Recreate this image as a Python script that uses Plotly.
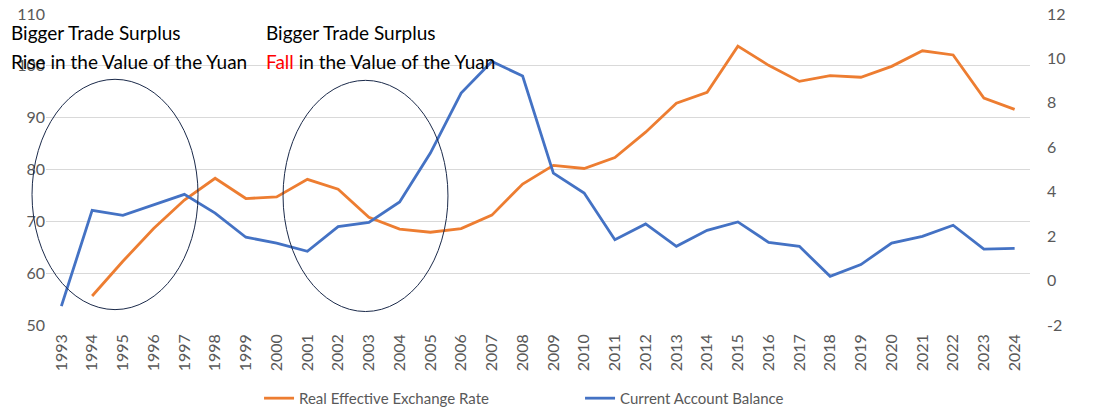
import plotly.graph_objects as go

years = list(range(1993, 2025))
year_labels = [str(y) for y in years]

reer = [None, 55.6, 62.3, 68.6, 74.1, 78.3, 74.4, 74.7, 78.1, 76.2,
        70.8, 68.5, 67.9, 68.6, 71.2, 77.2, 80.8, 80.2, 82.3, 87.2,
        92.8, 94.9, 103.8, 100.1, 97.0, 98.1, 97.8, 99.9, 102.9, 102.1,
        93.8, 91.6]

cab = [-1.15, 3.16, 2.94, 3.42, 3.88, 3.04, 1.95, 1.69, 1.32, 2.43,
       2.62, 3.54, 5.74, 8.44, 9.86, 9.21, 4.84, 3.94, 1.84, 2.55,
       1.54, 2.26, 2.64, 1.72, 1.54, 0.19, 0.72, 1.69, 1.99, 2.49,
       1.42, 1.45]

left_ticks = [50, 60, 70, 80, 90, 100, 110]
right_ticks = [-2, 0, 2, 4, 6, 8, 10, 12]
right_tick_labels = ["-2", "0", "2", "4", "6", "8", "10", "12"]

series_names = ["Real Effective Exchange Rate", "Current Account Balance"]

ORANGE = "#ED7D31"
BLUE = "#4472C4"
GRAY = "#595959"
FONT = "Lato, Open Sans, sans-serif"

fig = go.Figure()
fig.add_trace(go.Scatter(x=years, y=reer, mode="lines", name=series_names[0],
                         line=dict(color=ORANGE, width=2.8), yaxis="y"))
fig.add_trace(go.Scatter(x=years, y=cab, mode="lines", name=series_names[1],
                         line=dict(color=BLUE, width=2.8), yaxis="y2"))

# circles highlighting periods
ell = dict(type="circle", xref="paper", yref="y", line=dict(color="#1B2A4A", width=1),
           fillcolor="rgba(0,0,0,0)", layer="above")
fig.add_shape(**ell, x0=-0.0142, x1=0.1545, y0=52.97, y1=97.4)
fig.add_shape(**ell, x0=0.2409, x1=0.4085, y0=52.6, y1=97.2)

ann_font = dict(family=FONT, size=19, color="black")
fig.add_annotation(text="Bigger Trade Surplus", xref="paper", yref="paper",
                   x=-0.0376, y=0.939, xanchor="left", yanchor="middle",
                   showarrow=False, font=ann_font)
fig.add_annotation(text="Rise in the Value of the Yuan", xref="paper", yref="paper",
                   x=-0.0376, y=0.846, xanchor="left", yanchor="middle",
                   showarrow=False, font=ann_font)
fig.add_annotation(text="Bigger Trade Surplus", xref="paper", yref="paper",
                   x=0.2215, y=0.939, xanchor="left", yanchor="middle",
                   showarrow=False, font=ann_font)
fig.add_annotation(text="<span style='color:#FF0000'>Fall</span> in the Value of the Yuan",
                   xref="paper", yref="paper",
                   x=0.2215, y=0.846, xanchor="left", yanchor="middle",
                   showarrow=False, font=ann_font)

fig.update_layout(
    width=1100, height=409,
    margin=dict(l=46, r=70, t=14, b=84, autoexpand=False),
    paper_bgcolor="white", plot_bgcolor="white",
    font=dict(family=FONT, color=GRAY, size=14),
    showlegend=True,
    legend=dict(orientation="h", x=0.2165, xanchor="left", y=-0.183, yanchor="top",
                font=dict(size=15, color=GRAY), itemwidth=30, traceorder="normal",
                entrywidth=276, entrywidthmode="pixels"),
    xaxis=dict(range=[1992.5, 2024.5], tickvals=years, ticktext=year_labels,
               tickangle=-90, showgrid=False, zeroline=False, showline=False,
               tickfont=dict(size=16, color=GRAY), ticks="", automargin=False,
               ticklabelstandoff=5),
    yaxis=dict(range=[50, 110], tickvals=left_ticks, showgrid=True,
               gridcolor="#D9D9D9", gridwidth=1, zeroline=False, showline=False,
               tickfont=dict(size=16, color=GRAY), ticks="", automargin=False),
    yaxis2=dict(range=[-2, 12], tickvals=right_ticks, ticktext=right_tick_labels,
                overlaying="y", side="right",
                showgrid=False, zeroline=False, showline=False, automargin=False,
                tickfont=dict(size=16, color=GRAY), ticks="", ticklabelstandoff=16),
)

fig.write_html("out.html", config={"displayModeBar": False},
               post_script="document.body.style.margin='0';document.body.style.overflow='hidden';")
